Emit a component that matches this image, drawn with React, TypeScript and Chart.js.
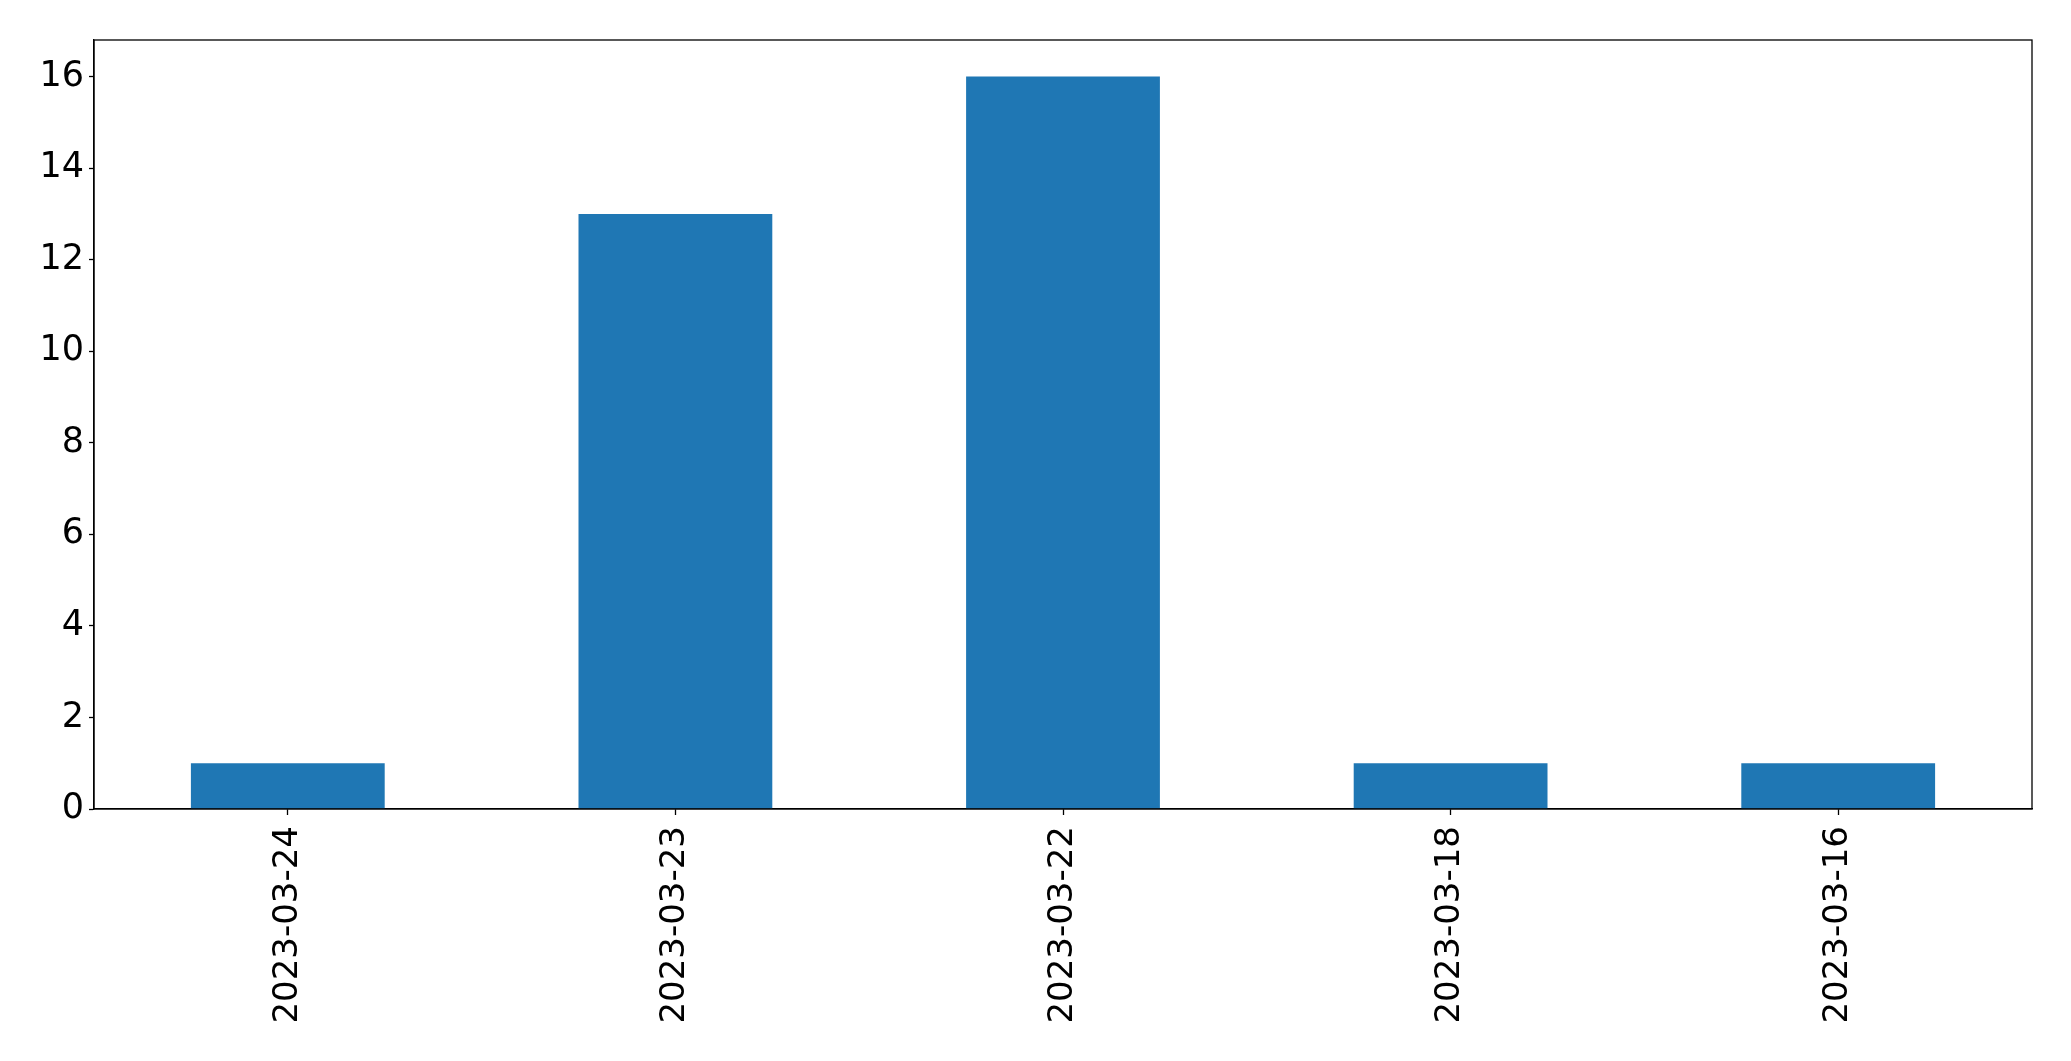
import { useEffect, useRef } from "react";
import { Chart, registerables } from "chart.js";

Chart.register(...registerables);

const categories = ["2023-03-24", "2023-03-23", "2023-03-22", "2023-03-18", "2023-03-16"];
const counts = [1, 13, 16, 1, 1];
const yTicks = [0, 2, 4, 6, 8, 10, 12, 14, 16];
const yMax = 16.8;

const W = 2071;
const H = 1061;
const AREA = { left: 94, top: 40, right: 2032, bottom: 809 };
const FONT = "'DejaVu Sans', sans-serif";

const framePlugin = {
  id: "frame",
  afterDraw(chart: any) {
    const { ctx, chartArea } = chart;
    ctx.save();
    ctx.strokeStyle = "#000";
    ctx.lineWidth = 1.3;
    ctx.strokeRect(chartArea.left, chartArea.top, chartArea.right - chartArea.left, chartArea.bottom - chartArea.top);
    ctx.restore();
  },
};

export default function App() {
  const ref = useRef<HTMLCanvasElement | null>(null);

  useEffect(() => {
    if (!ref.current) return;
    const chart = new Chart(ref.current, {
      type: "bar",
      data: {
        labels: categories,
        datasets: [
          {
            data: counts,
            backgroundColor: "#1f77b4",
            borderWidth: 0,
            barPercentage: 0.5,
            categoryPercentage: 1.0,
          },
        ],
      },
      options: {
        responsive: false,
        animation: false,
        devicePixelRatio: 1,
        layout: { padding: { left: 0, top: AREA.top, right: W - AREA.right, bottom: 0 } },
        plugins: { legend: { display: false }, tooltip: { enabled: false } },
        scales: {
          x: {
            offset: true,
            grid: {
              display: true,
              offset: false,
              drawOnChartArea: false,
              drawTicks: true,
              tickLength: 6,
              tickColor: "#000",
              tickWidth: 1.3,
              color: "#000",
            },
            border: { display: true, color: "#000", width: 1.3 },
            ticks: {
              minRotation: 90,
              maxRotation: 90,
              autoSkip: false,
              padding: 11,
              color: "#000",
              font: { family: FONT, size: 34 },
            },
            afterFit(scale: any) {
              scale.height = H - AREA.bottom;
            },
          },
          y: {
            min: 0,
            max: yMax,
            grid: {
              display: true,
              drawOnChartArea: false,
              drawTicks: true,
              tickLength: 5,
              tickColor: "#000",
              tickWidth: 1.3,
              color: "#000",
            },
            border: { display: true, color: "#000", width: 1.3 },
            ticks: {
              stepSize: 2,
              includeBounds: false,
              padding: 5,
              color: "#000",
              font: { family: FONT, size: 35 },
            },
            afterBuildTicks(scale: any) {
              scale.ticks = yTicks.map((v) => ({ value: v }));
            },
            afterFit(scale: any) {
              scale.width = AREA.left;
            },
          },
        },
      },
      plugins: [framePlugin],
    });
    return () => chart.destroy();
  }, []);

  return (
    <div style={{ position: "absolute", left: 0, top: 0, width: W, height: H, background: "#fff" }}>
      <canvas ref={ref} width={W} height={H} style={{ display: "block", width: W, height: H }} />
    </div>
  );
}
